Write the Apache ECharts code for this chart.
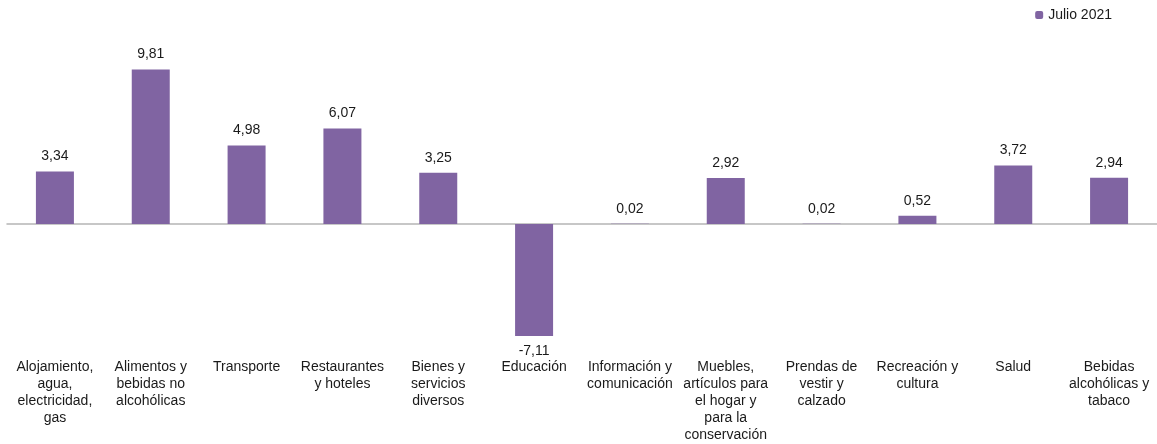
<!DOCTYPE html>
<html><head><meta charset="utf-8">
<script src="https://cdn.jsdelivr.net/npm/echarts@6/dist/echarts.min.js"></script>
<style>html,body{margin:0;padding:0;background:#fff}#c{width:1157px;height:444px}</style>
</head><body><div id="c"></div>
<script>
const categories = [
  "Alojamiento,\nagua,\nelectricidad,\ngas",
  "Alimentos y\nbebidas no\nalcohólicas",
  "Transporte",
  "Restaurantes\ny hoteles",
  "Bienes y\nservicios\ndiversos",
  "Educación",
  "Información y\ncomunicación",
  "Muebles,\nartículos para\nel hogar y\npara la\nconservación",
  "Prendas de\nvestir y\ncalzado",
  "Recreación y\ncultura",
  "Salud",
  "Bebidas\nalcohólicas y\ntabaco"
];
const seriesName = "Julio 2021";
const values = [3.34, 9.81, 4.98, 6.07, 3.25, -7.11, 0.02, 2.92, 0.02, 0.52, 3.72, 2.94];

const chart = echarts.init(document.getElementById('c'));
const font = 'Liberation Sans, Arial, sans-serif';
chart.setOption({
  animation: false,
  textStyle: {fontFamily: font},
  legend: {
    data: [seriesName], right: 40, top: 3, itemWidth: 8, itemHeight: 8, itemGap: 5,
    textStyle: {fontSize: 14, color: '#1a1a1a', fontFamily: font}
  },
  grid: {left: 7, right: 0, top: 66.5, bottom: 92.2, containLabel: false},
  xAxis: [
    {type: 'category', data: categories, position: 'bottom',
     axisLine: {show: false, onZero: false}, axisTick: {show: false},
     axisLabel: {interval: 0, margin: 9, fontSize: 14, lineHeight: 17, color: '#1a1a1a', fontFamily: font, verticalAlign: 'top'}},
    {type: 'category', data: categories, position: 'bottom',
     axisLine: {show: true, onZero: true, lineStyle: {color: '#b5b5b5', width: 1.5}},
     axisTick: {show: false}, axisLabel: {show: false}}
  ],
  yAxis: {type: 'value', min: -8, max: 10, show: false, splitLine: {show: false}},
  series: [{
    name: seriesName, type: 'bar', barWidth: 38,
    itemStyle: {color: '#8064A2'},
    data: values.map(v => ({value: v, label: {position: v < 0 ? 'bottom' : 'top'}})),
    label: {show: true, distance: 8, fontSize: 14, color: '#1a1a1a', fontFamily: font,
      formatter: p => p.value.toFixed(2).replace('.', ',')}
  }]
});
</script></body></html>
